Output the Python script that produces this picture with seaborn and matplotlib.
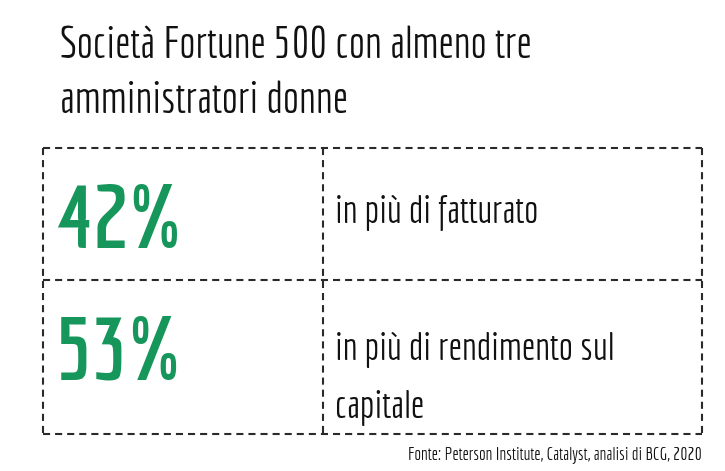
import matplotlib
matplotlib.use("Agg")
import matplotlib.pyplot as plt
import seaborn as sns

title_lines = ["Società Fortune 500 con almeno tre", "amministratori donne"]
percent_values = [42, 53]
descriptions = [["in più di fatturato"], ["in più di rendimento sul", "capitale"]]
source = "Fonte: Peterson Institute, Catalyst, analisi di BCG, 2020"

sns.set_style("white")
plt.rcParams['font.family'] = ["Economica", "DejaVu Sans"]

green = "#16965a"
dark = "#111111"

fig = plt.figure(figsize=(7.25, 4.71), dpi=100)
ax = fig.add_axes([0, 0, 1, 1])
ax.set_xlim(0, 725)
ax.set_ylim(471, 0)
ax.axis("off")
fig.canvas.draw()
renderer = fig.canvas.get_renderer()


def fit(t, width):
    w = t.get_window_extent(renderer).width
    t.set_fontsize(t.get_fontsize() * width / w)
    return t.get_fontsize()


# title
t1 = ax.text(60, 58, title_lines[0], fontsize=20, color=dark, va="baseline", ha="left")
fs_title = fit(t1, 470)
ax.text(60, 113, title_lines[1], fontsize=fs_title, color=dark, va="baseline", ha="left")

# table box
left, right, top, bottom, mid_x = 43, 702, 148, 434, 323
row_edges = [top, 280, bottom]
ls = dict(color="#2a2a2a", lw=1.5, linestyle=(0, (3.4, 2.4)))
for y in row_edges:
    ax.plot([left, right], [y, y], **ls)
for x in (left, mid_x, right):
    ax.plot([x, x], [top, bottom], **ls)

pct_baselines = [248, 380]
desc_baselines = [[223], [360, 418]]
fs_pct = None
fs_desc = None
for i, (val, desc) in enumerate(zip(percent_values, descriptions)):
    tp = ax.text(56, pct_baselines[i], f"{val}%", fontsize=fs_pct or 60, color=green,
                 va="baseline", ha="left", fontweight="bold")
    if fs_pct is None:
        fs_pct = fit(tp, 128)
    for j, line in enumerate(desc):
        td = ax.text(335, desc_baselines[i][j], line, fontsize=fs_desc or 20, color=dark,
                     va="baseline", ha="left")
        if fs_desc is None:
            fs_desc = fit(td, 203)

ts = ax.text(702, 460, source, fontsize=10, color=dark, va="baseline", ha="right")
fit(ts, 294)

fig.savefig("out.png", dpi=100)
